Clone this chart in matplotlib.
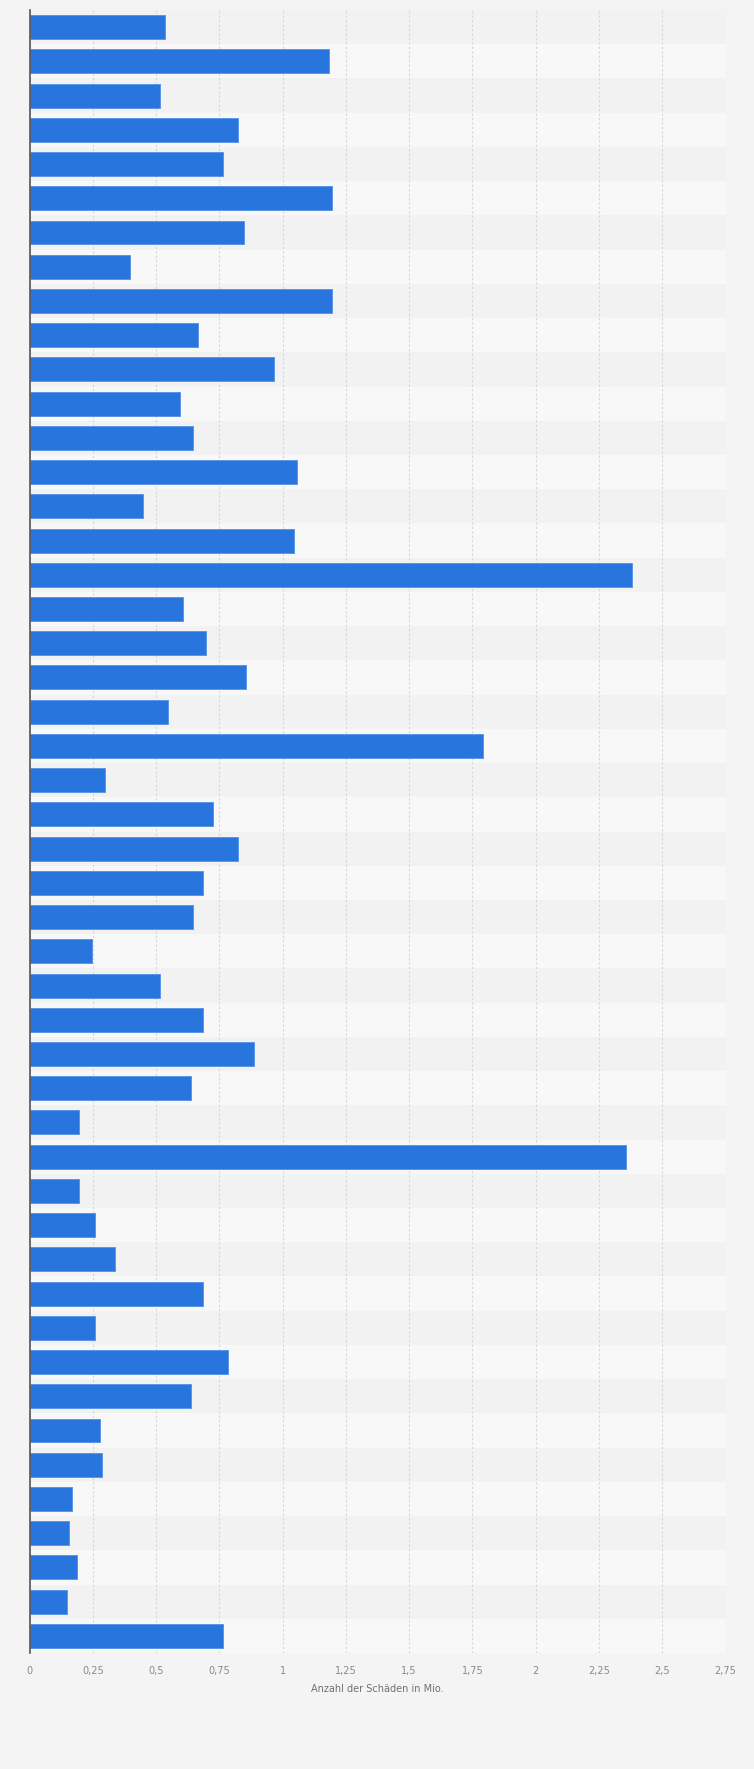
import matplotlib
matplotlib.use("Agg")
import matplotlib.pyplot as plt
import numpy as np

# Data (values in millions), top to bottom; category names are not shown in the chart
values = [0.536, 1.185, 0.517, 0.824, 0.765, 1.195, 0.847, 0.397, 1.195,
          0.667, 0.967, 0.594, 0.646, 1.058, 0.448, 1.045, 2.382,
          0.608, 0.697, 0.857, 0.547, 1.793, 0.298, 0.726, 0.824, 0.686,
          0.646, 0.247, 0.517, 0.686, 0.887, 0.638, 0.196, 2.355,
          0.196, 0.260, 0.338, 0.686, 0.260, 0.784, 0.638, 0.279, 0.287,
          0.169, 0.156, 0.188, 0.148, 0.765]
tick_values = [0, 0.25, 0.5, 0.75, 1, 1.25, 1.5, 1.75, 2, 2.25, 2.5, 2.75]
tick_labels = ["0", "0,25", "0,5", "0,75", "1", "1,25", "1,5", "1,75", "2",
               "2,25", "2,5", "2,75"]
x_label = "Anzahl der Schäden in Mio."

plt.rcParams['font.family'] = ['DejaVu Sans']

fig = plt.figure(figsize=(7.54, 17.69), dpi=100, facecolor='#f4f4f4')
ax = fig.add_axes([29.5/754, 1-1653/1769, (725.5-29.5)/754, (1653-10)/1769])
ax.set_facecolor('#f4f4f4')

n = len(values)
y = np.arange(n)

for i in range(n):
    ax.axhspan(i-0.5, i+0.5, color='#f2f2f2' if i % 2 == 0 else '#f8f8f8',
               zorder=0.1, linewidth=0)

ax.barh(y, values, height=0.70, color='#2876dd', edgecolor='#5a97e6',
        linewidth=0.7, zorder=2)

ax.set_xlim(0, 2.75)
ax.set_ylim(n-0.5, -0.5)
ax.set_xticks(tick_values)
ax.set_xticklabels(tick_labels, fontsize=7, color='#8a8a8a')
ax.set_yticks([])
ax.tick_params(axis='x', length=0, pad=9)
ax.set_axisbelow(True)
ax.grid(axis='x', linestyle=(0, (2, 2)), color='#d6d6d6', linewidth=0.8)

for s in ['top', 'right', 'bottom']:
    ax.spines[s].set_visible(False)
ax.spines['left'].set_color('#555555')
ax.spines['left'].set_linewidth(1.2)
ax.spines['left'].set_zorder(3)

ax.set_xlabel(x_label, fontsize=7, color='#707070', labelpad=6)

fig.savefig("out.png", dpi=100, facecolor=fig.get_facecolor())
